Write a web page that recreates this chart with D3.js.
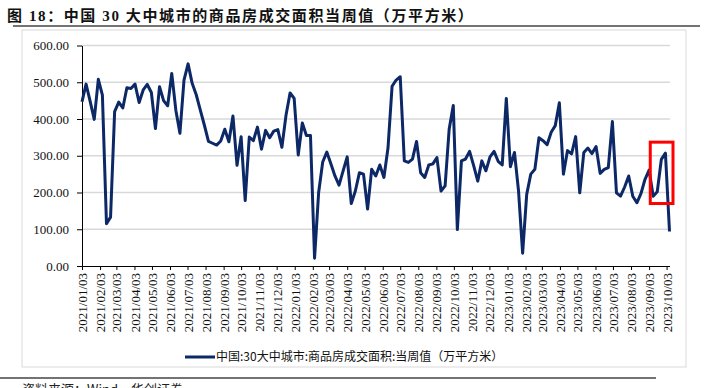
<!DOCTYPE html>
<html>
<head>
<meta charset="utf-8">
<script src="https://cdn.jsdelivr.net/npm/d3@7"></script>
<style>
    body { margin: 0; background: #fff; }
    svg { display: block; }
</style>
</head>
<body>
<svg id="chart" width="717" height="388"></svg>
<script>
// weekly series, first week ends 2021/01/03, one value per week
const weekStart = '2021/01/03';
const areaValues = [
    447, 495, 448, 399, 508, 465, 115, 133, 420, 446,
    430, 485, 483, 495, 445, 479, 494, 472, 374, 488,
    450, 436, 524, 424, 361, 506, 550, 497, 466, 424,
    383, 339, 334, 329, 340, 372, 338, 408, 274, 352,
    178, 351, 341, 378, 318, 369, 349, 367, 371, 323,
    410, 471, 456, 302, 389, 355, 355, 21, 200, 283,
    310, 278, 245, 220, 259, 297, 170, 204, 254, 250,
    155, 263, 245, 275, 241, 321, 489, 506, 515, 286,
    282, 291, 339, 254, 241, 275, 278, 295, 204, 218,
    373, 437, 99, 286, 291, 312, 273, 231, 286, 259,
    297, 312, 285, 275, 456, 270, 309, 204, 35, 195,
    250, 263, 349, 341, 330, 364, 382, 444, 250, 314,
    305, 352, 199, 309, 321, 306, 325, 252, 263, 268,
    393, 199, 190, 215, 245, 190, 172, 197, 236, 261,
    190, 202, 290, 307, 94
];
const axisEnd = '2023/10/08';

const yTicks = [0, 100, 200, 300, 400, 500, 600];
const xTickLabels = [
    '2021/01/03', '2021/02/03', '2021/03/03', '2021/04/03', '2021/05/03', '2021/06/03',
    '2021/07/03', '2021/08/03', '2021/09/03', '2021/10/03', '2021/11/03', '2021/12/03',
    '2022/01/03', '2022/02/03', '2022/03/03', '2022/04/03', '2022/05/03', '2022/06/03',
    '2022/07/03', '2022/08/03', '2022/09/03', '2022/10/03', '2022/11/03', '2022/12/03',
    '2023/01/03', '2023/02/03', '2023/03/03', '2023/04/03', '2023/05/03', '2023/06/03',
    '2023/07/03', '2023/08/03', '2023/09/03', '2023/10/03'
];

// red box around the last weeks
const highlightDates = ['2023/09/05', '2023/10/14'];
const highlightValues = [170, 337];

const titleText = '图 18：中国 30 大中城市的商品房成交面积当周值（万平方米）';
const legendText = '中国:30大中城市:商品房成交面积:当周值（万平方米）';
const sourceText = '资料来源：Wind，华创证券';

class WeeklyLineChart {
    constructor() {
        this.parse = d3.timeParse('%Y/%m/%d');
        const start = this.parse(weekStart);
        this.data = areaValues.map((v, i) => ({ date: d3.timeDay.offset(start, 7 * i), value: v }));
        this.svg = d3.select('#chart');
        this.navy = '#0c2867';
        this.initScales();
        this.drawFrame();
        this.drawAxes();
        this.drawLine();
        this.drawLegend();
    }

    initScales() {
        this.x = d3.scaleTime()
            .domain([this.parse(weekStart), this.parse(axisEnd)])
            .range([82, 669.5]);
        this.y = d3.scaleLinear().domain([0, 600]).range([266, 45.5]);
    }

    // title, rules and the light chart border
    drawFrame() {
        const svg = this.svg;
        svg.append('text')
            .attr('x', 7).attr('y', 21)
            .attr('font-family', '"Liberation Serif", "Noto Sans CJK SC"')
            .attr('font-weight', 'bold')
            .attr('font-size', 15)
            .attr('letter-spacing', 1.6)
            .attr('fill', '#111')
            .text(titleText);

        svg.append('line')
            .attr('x1', 13).attr('x2', 700).attr('y1', 26).attr('y2', 26)
            .attr('stroke', '#444').attr('stroke-width', 1.5);

        svg.append('rect')
            .attr('x', 22).attr('y', 30).attr('width', 664).attr('height', 337)
            .attr('fill', 'none').attr('stroke', '#d9d9d9').attr('stroke-width', 1);

        svg.append('line')
            .attr('x1', 0).attr('x2', 656).attr('y1', 378).attr('y2', 378)
            .attr('stroke', '#444').attr('stroke-width', 1.5);

        // source note, cut by the bottom edge as in the original
        svg.append('text')
            .attr('x', 22).attr('y', 394)
            .attr('font-family', '"Noto Sans CJK SC"')
            .attr('font-size', 13)
            .attr('fill', '#222')
            .text(sourceText);
    }

    drawAxes() {
        const svg = this.svg;
        const x = this.x, y = this.y;

        // horizontal gridlines
        svg.append('g')
            .selectAll('line')
            .data(yTicks.filter(t => t > 0))
            .join('line')
            .attr('x1', x.range()[0]).attr('x2', 670)
            .attr('y1', d => y(d)).attr('y2', d => y(d))
            .attr('stroke', '#d9d9d9').attr('stroke-width', 1.3);

        const yAxis = svg.append('g')
            .attr('transform', `translate(${x.range()[0]},0)`)
            .call(d3.axisLeft(y).tickValues(yTicks).tickFormat(d3.format('.2f')).tickSize(5).tickSizeOuter(0).tickPadding(8));

        const xAxis = svg.append('g')
            .attr('transform', `translate(0,${y(0)})`)
            .call(d3.axisBottom(x)
                .tickValues(xTickLabels.map(this.parse))
                .tickFormat(d3.timeFormat('%Y/%m/%d'))
                .tickSize(4).tickSizeOuter(0));

        xAxis.selectAll('text')
            .attr('transform', 'rotate(-90)')
            .attr('x', -7).attr('y', 0).attr('dy', '0.35em')
            .style('text-anchor', 'end');

        [xAxis, yAxis].forEach(g => {
            g.select('.domain').attr('stroke', '#000').attr('stroke-width', 1);
            g.selectAll('.tick line').attr('stroke', '#000');
            g.selectAll('text')
                .attr('font-family', '"Liberation Serif", serif')
                .attr('font-size', 13)
                .attr('fill', '#111');
        });
    }

    drawLine() {
        const line = d3.line()
            .x(d => this.x(d.date))
            .y(d => this.y(d.value));

        this.svg.append('path')
            .datum(this.data)
            .attr('d', line)
            .attr('fill', 'none')
            .attr('stroke', this.navy)
            .attr('stroke-width', 3)
            .attr('stroke-linejoin', 'round');

        const x0 = this.x(this.parse(highlightDates[0]));
        const x1 = this.x(this.parse(highlightDates[1]));
        this.svg.append('rect')
            .attr('x', x0).attr('y', this.y(highlightValues[1]))
            .attr('width', x1 - x0)
            .attr('height', this.y(highlightValues[0]) - this.y(highlightValues[1]))
            .attr('fill', 'none')
            .attr('stroke', '#ff0000')
            .attr('stroke-width', 3);
    }

    drawLegend() {
        const g = this.svg.append('g');
        g.append('line')
            .attr('x1', 185).attr('x2', 215).attr('y1', 357).attr('y2', 357)
            .attr('stroke', this.navy).attr('stroke-width', 3);
        g.append('text')
            .attr('x', 216).attr('y', 361)
            .attr('font-family', '"Noto Sans CJK SC"')
            .attr('font-size', 12)
            .attr('fill', '#111')
            .text(legendText);
    }
}

new WeeklyLineChart();
</script>
</body>
</html>
